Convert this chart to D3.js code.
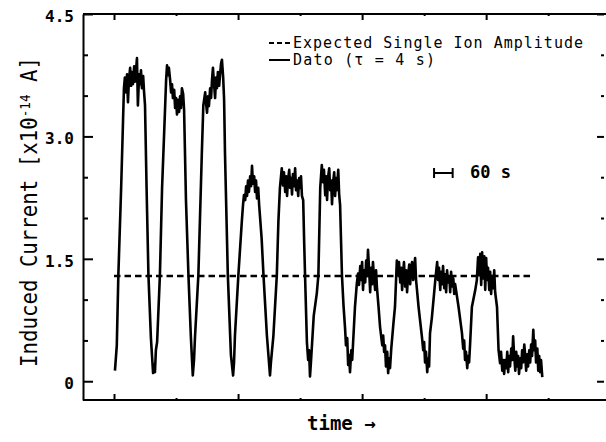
<!DOCTYPE html>
<html>
<head>
<script src="https://cdnjs.cloudflare.com/ajax/libs/d3/7.8.5/d3.min.js"></script>
<style>
  body { margin: 0; background: #fff; }
  svg { display: block; }
  text { font-family: "DejaVu Sans Mono", monospace; fill: #000; }
  .axis path, .axis line { stroke: #000; stroke-width: 2px; }
  .axis text { font-family: "DejaVu Sans Mono", monospace; font-weight: bold; font-size: 16px; }
</style>
</head>
<body>
<div id="chart"></div>
<script>
const trace = [
  // pulses 1-3 (~3.7)
  [3,0.13],[9,0.44],[14,1.30],[23,2.37],[29,3.18],[32,3.59],[35,3.72],[39,3.54],[42,3.76],[45,3.42],[48,3.69],[52,3.84],[55,3.62],[58,3.79],[61,3.64],[65,3.86],[68,3.67],[71,3.81],[74,3.96],[77,3.38],[81,3.76],[84,3.64],[87,3.81],[90,3.59],[94,3.74],[97,3.54],[100,3.38],[105,2.37],[111,1.30],[119,0.53],[126,0.10],
  [129,0.20],[132,0.11],[135,0.38],[139,0.48],[148,1.30],[155,2.37],[165,3.38],[168,3.69],[171,3.87],[174,3.75],[177,3.84],[181,3.69],[184,3.54],[187,3.64],[190,3.47],[194,3.57],[197,3.35],[200,3.47],[203,3.27],[206,3.45],[210,3.30],[213,3.49],[216,3.35],[219,3.59],[223,3.52],[226,3.32],[232,2.22],[240,1.30],[248,0.53],[254,0.07],
  [258,0.26],[261,0.53],[272,1.30],[283,2.77],[288,3.38],[294,3.54],[297,3.40],[300,3.29],[303,3.49],[306,3.37],[310,3.59],[313,3.47],[316,3.69],[319,3.84],[323,3.62],[326,3.47],[329,3.72],[332,3.59],[335,3.79],[339,3.62],[342,3.76],[345,3.89],[348,3.94],[352,3.72],[355,3.45],[358,2.77],[367,1.30],[377,0.32],[384,0.07],
  // pulses 4-6 (~2.4)
  [387,0.23],[390,0.56],[401,1.30],[412,1.95],[416,2.16],[419,2.28],[423,2.22],[426,2.39],[429,2.27],[432,2.46],[435,2.32],[439,2.51],[442,2.39],[445,2.64],[448,2.42],[452,2.51],[455,2.32],[458,2.46],[461,2.24],[465,2.37],[468,2.16],[476,1.75],[482,1.30],[493,0.56],[503,0.07],
  [506,0.23],[514,0.56],[525,1.30],[530,1.95],[535,2.37],[541,2.61],[545,2.40],[548,2.56],[552,2.32],[555,2.51],[558,2.27],[561,2.46],[565,2.59],[568,2.37],[571,2.49],[574,2.29],[577,2.54],[581,2.39],[584,2.61],[587,2.34],[590,2.46],[594,2.27],[597,2.49],[600,2.37],[603,2.51],[606,2.27],[610,2.22],[613,1.73],[616,1.30],[622,0.48],[626,0.26],[629,0.38],[632,0.06],[635,0.23],
  [644,0.80],[654,1.08],[659,1.30],[665,2.37],[670,2.65],[674,2.44],[677,2.59],[681,2.28],[684,2.51],[687,2.22],[690,2.49],[694,2.61],[697,2.34],[700,2.46],[703,2.17],[706,2.42],[710,2.56],[713,2.27],[716,2.49],[719,2.34],[723,2.59],[726,2.29],[729,2.16],[732,1.73],[735,1.30],[740,0.93],[745,0.65],[748,0.44],[752,0.53],[755,0.20],[758,0.32],[761,0.11],[765,0.38],[768,0.26],
  // pulses 7-10 (~1.3)
  [777,0.91],[783,1.20],[787,1.32],[790,1.18],[794,1.41],[797,1.24],[800,1.46],[803,1.12],[806,1.36],[810,1.21],[813,1.48],[816,1.29],[819,1.61],[823,1.34],[826,1.09],[829,1.39],[832,1.19],[835,1.46],[839,1.24],[842,1.12],[845,1.36],[848,1.14],[853,0.91],[858,0.66],[865,0.44],[868,0.56],[871,0.36],[874,0.44],[877,0.18],[881,0.36],[884,0.10],[887,0.28],[890,0.16],[894,0.40],
  [901,0.71],[906,0.91],[912,1.48],[916,1.30],[919,1.46],[923,1.21],[926,1.39],[929,1.12],[932,1.31],[935,1.46],[939,1.16],[942,1.36],[945,1.09],[948,1.29],[952,1.43],[955,1.19],[958,1.36],[961,1.46],[965,1.24],[968,1.41],[971,1.51],[974,1.24],[977,1.12],[982,0.91],[993,0.54],[997,0.38],[1000,0.48],[1003,0.23],[1006,0.36],[1010,0.11],[1013,0.28],[1016,0.18],
  [1019,0.59],[1025,0.78],[1036,1.24],[1042,1.46],[1045,1.24],[1048,1.39],[1052,1.12],[1055,1.34],[1058,1.19],[1061,1.41],[1065,1.14],[1068,1.31],[1071,1.09],[1074,1.36],[1077,1.21],[1081,1.29],[1084,1.09],[1087,1.34],[1090,1.16],[1094,1.26],[1097,1.07],[1100,1.19],[1111,0.91],[1122,0.59],[1126,0.40],[1129,0.50],[1132,0.26],[1135,0.36],[1139,0.16],[1142,0.31],[1145,0.23],[1148,0.44],
  [1154,0.91],[1165,1.12],[1170,1.24],[1174,1.52],[1177,1.30],[1181,1.56],[1184,1.18],[1187,1.58],[1190,1.26],[1194,1.53],[1197,1.12],[1200,1.51],[1203,1.24],[1206,1.39],[1210,1.12],[1213,1.34],[1216,1.07],[1219,1.29],[1223,1.14],[1226,1.36],[1229,1.09],[1235,0.91],[1240,0.38],[1245,0.22],[1248,0.36],[1252,0.13],[1255,0.26],[1258,0.09],
  // no ion left
  [1261,0.26],[1265,0.16],[1268,0.36],[1271,0.11],[1274,0.31],[1277,0.18],[1281,0.40],[1284,0.26],[1287,0.55],[1290,0.33],[1294,0.13],[1297,0.36],[1300,0.18],[1303,0.31],[1306,0.09],[1310,0.28],[1313,0.16],[1316,0.38],[1319,0.23],[1323,0.45],[1326,0.31],[1329,0.13],[1332,0.33],[1335,0.18],[1339,0.38],[1342,0.23],[1345,0.45],[1348,0.31],[1352,0.63],[1355,0.38],[1358,0.50],[1361,0.23],[1365,0.40],[1368,0.13],[1371,0.31],[1374,0.11],[1377,0.26],[1381,0.05]
];

const expectedAmplitude = 1.29;
const expectedSpan = [0, 1345];
const yMajorTicks = [0, 1.5, 3.0, 4.5];
const yMinorTicks = [0.5, 1, 2, 2.5, 3.5, 4];
const xMajorTicks = [0, 400, 800, 1200];
const xMinorTicks = [200, 600, 1000, 1400];
const legendLabels = ["Expected Single Ion Amplitude", "Dato (\u03c4 = 4 s)"];
const scaleBarSeconds = 60;
const scaleBarStart = 1032;

const width = 606, height = 442;
const plotLeft = 83, plotRight = 604, plotTop = 14, plotBottom = 400;

const svg = d3.select("#chart").append("svg")
  .attr("width", width).attr("height", height);

const x = d3.scaleLinear().domain([-100, 1580]).range([plotLeft, plotRight]);
const y = d3.scaleLinear().domain([-0.23, 4.5]).range([plotBottom, plotTop]);

const fmt = d => d === 0 ? "0" : d.toFixed(1);

// left axis, ticks pointing in
const yAxis = svg.append("g").attr("class", "axis")
  .attr("transform", `translate(${plotLeft},0)`)
  .call(d3.axisLeft(y).tickValues(yMajorTicks).tickFormat(fmt)
    .tickSizeInner(-10).tickSizeOuter(0).tickPadding(9));
yAxis.selectAll("text").attr("dy", "0.45em");

svg.append("g").attr("class", "axis")
  .attr("transform", `translate(${plotLeft},0)`)
  .call(d3.axisLeft(y).tickValues(yMinorTicks).tickFormat("").tickSize(-5))
  .select(".domain").remove();

// right side ticks only
svg.append("g").attr("class", "axis")
  .attr("transform", `translate(${plotRight},0)`)
  .call(d3.axisRight(y).tickValues(yMajorTicks).tickFormat("").tickSize(-7))
  .select(".domain").remove();
svg.append("g").attr("class", "axis")
  .attr("transform", `translate(${plotRight},0)`)
  .call(d3.axisRight(y).tickValues(yMinorTicks).tickFormat("").tickSize(-3))
  .select(".domain").remove();

// top and bottom frame lines
svg.append("line").attr("x1", plotLeft).attr("x2", width).attr("y1", plotTop).attr("y2", plotTop)
  .attr("stroke", "#000").attr("stroke-width", 2);
svg.append("line").attr("x1", plotLeft).attr("x2", width).attr("y1", plotBottom).attr("y2", plotBottom)
  .attr("stroke", "#000").attr("stroke-width", 2);

[[plotBottom, d3.axisBottom], [plotTop, d3.axisTop]].forEach(([yy, ax]) => {
  svg.append("g").attr("class", "axis")
    .attr("transform", `translate(0,${yy})`)
    .call(ax(x).tickValues(xMajorTicks).tickFormat("").tickSize(-6))
    .select(".domain").remove();
  svg.append("g").attr("class", "axis")
    .attr("transform", `translate(0,${yy})`)
    .call(ax(x).tickValues(xMinorTicks).tickFormat("").tickSize(-2))
    .select(".domain").remove();
});

// expected single ion level
svg.append("line")
  .attr("x1", x(expectedSpan[0])).attr("x2", x(expectedSpan[1]))
  .attr("y1", y(expectedAmplitude)).attr("y2", y(expectedAmplitude))
  .attr("stroke", "#000").attr("stroke-width", 2.5)
  .attr("stroke-dasharray", "6.5,4");

// data trace
svg.append("path")
  .datum(trace)
  .attr("fill", "none")
  .attr("stroke", "#000")
  .attr("stroke-width", 2.6)
  .attr("stroke-linejoin", "round")
  .attr("d", d3.line().x(d => x(d[0])).y(d => y(d[1])));

// legend
const legend = svg.append("g");
legend.append("line").attr("x1", 269).attr("x2", 290).attr("y1", 43).attr("y2", 43)
  .attr("stroke", "#000").attr("stroke-width", 2).attr("stroke-dasharray", "5,3");
legend.append("line").attr("x1", 269).attr("x2", 290).attr("y1", 60).attr("y2", 60)
  .attr("stroke", "#000").attr("stroke-width", 2);
legend.selectAll("text").data(legendLabels).enter().append("text")
  .attr("x", 293).attr("y", (d, i) => 47.5 + i * 17.5)
  .attr("font-size", 15)
  .attr("font-weight", 500)
  .attr("textLength", (d, i) => i === 0 ? 290 : 142)
  .attr("lengthAdjust", "spacing")
  .text(d => d);

// 60 s scale bar
const sb = svg.append("g").attr("stroke", "#000").attr("stroke-width", 2);
const sx0 = x(scaleBarStart), sx1 = x(scaleBarStart + scaleBarSeconds);
sb.append("line").attr("x1", sx0).attr("x2", sx1).attr("y1", 173).attr("y2", 173);
sb.append("line").attr("x1", sx0).attr("x2", sx0).attr("y1", 168).attr("y2", 178);
sb.append("line").attr("x1", sx1).attr("x2", sx1).attr("y1", 168).attr("y2", 178);
svg.append("text").attr("x", 470).attr("y", 178)
  .attr("font-size", 17).attr("font-weight", "bold")
  .text(scaleBarSeconds + " s");

// axis titles
const yTitle = svg.append("text")
  .attr("transform", "translate(37,212) rotate(-90)")
  .attr("text-anchor", "middle")
  .attr("font-size", 23)
  .attr("textLength", 310)
  .attr("lengthAdjust", "spacingAndGlyphs");
yTitle.append("tspan").text("Induced Current [x10");
yTitle.append("tspan").attr("dy", -7).attr("font-size", 14).text("-14");
yTitle.append("tspan").attr("dy", 7).text(" A]");

svg.append("text").attr("x", 307).attr("y", 430)
  .attr("font-size", 19).attr("font-weight", "bold")
  .text("time \u2192");
</script>
</body>
</html>
